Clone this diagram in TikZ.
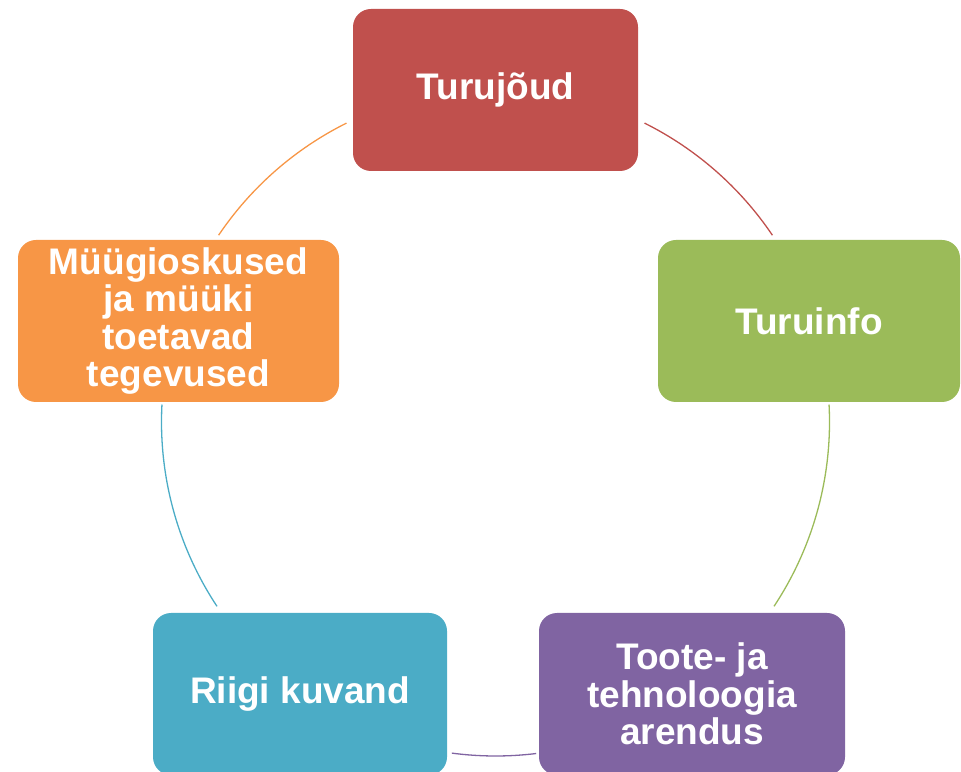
\documentclass[tikz,border=0pt]{standalone}
\usepackage{fontspec}
\setmainfont{Liberation Sans}
\usetikzlibrary{calc, positioning}
\definecolor{boxRed}{HTML}{C0504D}
\definecolor{boxGreen}{HTML}{9BBB59}
\definecolor{boxPurple}{HTML}{8064A2}
\definecolor{boxTeal}{HTML}{4BACC6}
\definecolor{boxOrange}{HTML}{F79646}
\tikzset{
    cycleBox/.style={rectangle, rounded corners=18pt, inner sep=0pt, minimum height=162pt, text=white, align=center, font=\bfseries\fontsize{37}{37.5}\selectfont},
    cycleArc/.style={line width=1.3pt},
}
\newcommand{\drawArc}[4]{
    % start on the circle, then follow it to the next box
    \coordinate (#1) at ($(ctr)+(#3:334)$);
    \draw[cycleArc, #2] (#1) arc[start angle=#3, end angle=#4, radius=334];
}

\begin{document}
\begin{tikzpicture}[x=1pt, y=1pt]
        \useasboundingbox (0,0) rectangle (961,771);
        \coordinate (ctr) at (495.5,349);

        \node[cycleBox, fill=boxRed, minimum width=285pt] (jõud) at (495.5,681) {Turujõud};
        \node[cycleBox, fill=boxGreen, minimum width=302pt] (info) at (809,450) {Turuinfo};
        \node[cycleBox, fill=boxPurple, minimum width=306pt] (arendus) at (692,77) {Toote- ja\\tehnoloogia\\arendus};
        \node[cycleBox, fill=boxTeal, minimum width=294pt] (kuvand) at (300,77) {Riigi kuvand};
        \node[cycleBox, fill=boxOrange, minimum width=321pt] (müük) at (178.5,450) {Müügioskused\\ja müüki\\toetavad\\tegevused};

        \drawArc{a1}{boxRed}{63.5}{34}
        \drawArc{a2}{boxGreen}{3}{-33.5}
        \drawArc{a3}{boxPurple}{-83}{-97.5}
        \drawArc{a4}{boxTeal}{-146.5}{-183}
        \drawArc{a5}{boxOrange}{146}{116.5}

    \end{tikzpicture}
\end{document}
